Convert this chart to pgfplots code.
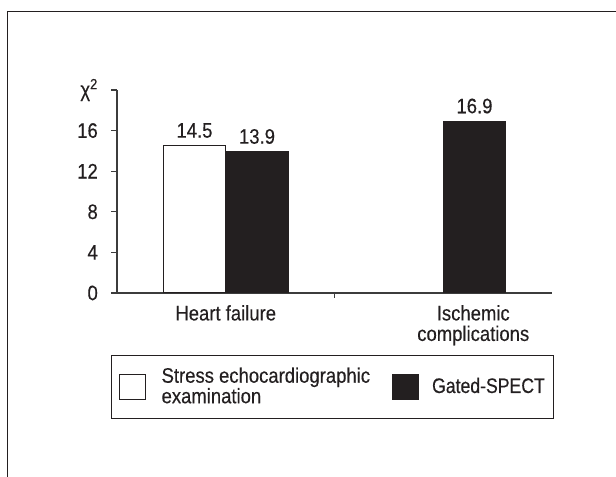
\documentclass[border=0pt]{standalone}
\usepackage{pgfplots}
\pgfplotsset{compat=1.18}
\usepackage{fontspec}
\setmainfont{Liberation Sans}[FakeStretch=0.88,FakeBold=0.3]
\definecolor{ink}{RGB}{35,31,32}
\definecolor{axisgray}{RGB}{60,60,60}
\begin{document}
\fontsize{21bp}{20.5bp}\selectfont
\begin{tikzpicture}
\path[use as bounding box] (0,0) rectangle (616bp,477bp);
\draw[ink, line width=1.5bp] (7.5bp,0) -- (7.5bp,465.3bp) -- (616bp,465.3bp);
\begin{axis}[
 at={(117bp,184bp)}, anchor=south west,
 scale only axis, width=435bp, height=203bp,
 xmin=-0.5, xmax=1.5, ymin=0, ymax=20,
 ybar=0pt, bar width=62.5bp,
 axis x line*=bottom, axis y line*=left,
 axis line style={axisgray, line width=1.1bp, -},
 tick align=outside,
 ytick={0,4,8,12,16,20},
 yticklabels={0,4,8,12,16,{χ\textsuperscript{2}}},
 major tick length=6bp,
 ytick style={axisgray, line width=1.1bp},
 xtick={0,1.138},
 xticklabels={Heart failure,{Ischemic\\complications}},
 xtick style={draw=none},
 extra x ticks={0.5}, extra x tick labels={},
 extra x tick style={xtick style={draw=axisgray, line width=1.1bp}, major tick length=5bp},
 xticklabel style={align=center, inner sep=0pt, anchor=north, yshift=-6bp, text=ink},
 yticklabel style={anchor=east, inner sep=0pt, xshift=-13bp, text=ink},
 /pgf/number format/assume math mode=true,
 clip=false,
 nodes near coords,
 nodes near coords style={anchor=south, inner sep=0pt, yshift=7.5bp, text=ink},
 legend columns=2,
 legend image code/.code={\draw[#1, line width=1bp] (0bp,-12.5bp) rectangle (26bp,12.5bp);},
 legend style={at={(-0.0138,-0.305)}, anchor=north west, draw=ink, line width=1.2bp,
   inner xsep=7bp, inner ysep=10bp,
   cells={anchor=west, align=left, inner sep=0pt, text=ink},
   /tikz/column 1/.style={column sep=14bp},
   /tikz/column 2/.style={column sep=20bp},
   /tikz/column 3/.style={column sep=11bp}},
]
\addplot[fill=white, draw=ink, line width=1bp] coordinates {(0,14.5)};
\addlegendentry{Stress echocardiographic\\examination}
\addplot[fill=ink, draw=ink, line width=1bp] coordinates {(0,13.9) (1,16.9)};
\addlegendentry{\addfontfeature{FakeStretch=0.84}Gated-SPECT}
\end{axis}
\end{tikzpicture}
\end{document}
